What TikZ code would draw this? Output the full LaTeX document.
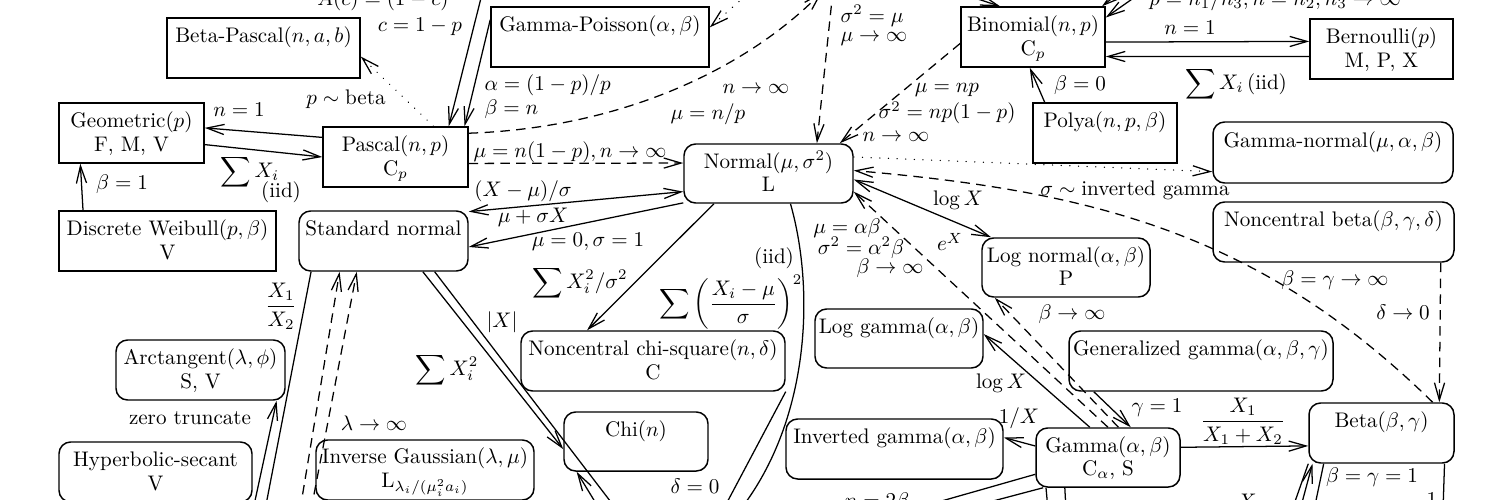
\documentclass[tikz,border=0pt]{standalone}
\usepackage{amsmath}
\usetikzlibrary{arrows.meta}
\newcommand\fstrut{\rule{0pt}{9.4pt}}
\begin{document}
\begin{tikzpicture}[x=0.01667cm,y=-0.01667cm,
  >={Straight Barb[length=8.2pt,width=4.8pt]},
  ln/.style={line width=0.6pt},
  dsh/.style={ln, dash pattern=on 4.5pt off 3pt},
  dtt/.style={ln, dash pattern=on 0.1pt off 4pt, line cap=round},
  wh/.style 2 args={minimum width=#1*0.01667cm, minimum height=#2*0.01667cm},
  box/.style={draw, line width=0.7pt, inner sep=0pt, align=center, font=\fontsize{10}{11.2}\selectfont},
  rbox/.style={box, rounded corners=5.5pt},
  lbl/.style={inner sep=1pt}]
\useasboundingbox (0,0) rectangle (1500,499);
\clip (0,0) rectangle (1500,499);

% ---------- nodes ----------
\node[box, wh={193}{60}] (betapascal) at (263.5,48) {\fstrut Beta-Pascal$(n,a,b)$\\\strut};
\node[box, wh={218}{60}] (gammapoisson) at (600,37) {\fstrut Gamma-Poisson$(\alpha,\beta)$\\\strut};
\node[box, wh={144}{60}] (binomial) at (1033,37) {\fstrut Binomial$(n,p)$\\\strut C$_p$};
\node[box, wh={143}{60}] (bernoulli) at (1381.5,49) {\fstrut Bernoulli$(p)$\\\strut M, P, X};
\node[box, wh={145}{60}] (geometric) at (131.5,133) {\fstrut Geometric$(p)$\\\strut F, M, V};
\node[box, wh={145}{60}] (pascal) at (395.5,157) {\fstrut Pascal$(n,p)$\\\strut C$_p$};
\node[box, wh={144}{60}] (polya) at (1105,133) {\fstrut Polya$(n,p,\beta)$\\\strut};
\node[rbox, wh={169}{59}] (normal) at (768.5,173.5) {\fstrut Normal$(\mu,\sigma^2)$\\\strut L};
\node[rbox, wh={240}{61}] (gammanormal) at (1333,152.5) {\fstrut Gamma-normal$(\mu,\alpha,\beta)$\\\strut};
\node[box, wh={217}{60}] (dweibull) at (167.5,241) {\fstrut Discrete Weibull$(p,\beta)$\\\strut V};
\node[rbox, wh={169}{60}] (stdnormal) at (383.5,241) {\fstrut Standard normal\\\strut};
\node[rbox, wh={241}{60}] (ncbeta) at (1333.5,232) {\fstrut Noncentral beta$(\beta,\gamma,\delta)$\\\strut};
\node[rbox, wh={168}{59}] (lognormal) at (1066,267.5) {\fstrut Log normal$(\alpha,\beta)$\\\strut P};
\node[rbox, wh={168}{59}] (loggamma) at (899,338.5) {\fstrut Log gamma$(\alpha,\beta)$\\\strut};
\node[rbox, wh={264}{60}] (gengamma) at (1201,361) {\fstrut Generalized gamma$(\alpha,\beta,\gamma)$\\\strut};
\node[rbox, wh={264}{60}] (ncchisq) at (653,361) {\fstrut Noncentral chi-square$(n,\delta)$\\\strut C};
\node[rbox, wh={169}{60}] (arctan) at (200.5,370) {\fstrut Arctangent$(\lambda,\phi)$\\\strut S, V};
\node[rbox, wh={144}{59}] (chi) at (636,441.5) {\fstrut Chi$(n)$\\\strut};
\node[rbox, wh={217}{60}] (invgamma) at (894.5,449) {\fstrut Inverted gamma$(\alpha,\beta)$\\\strut};
\node[rbox, wh={144}{59}] (gamma) at (1108,457.5) {\fstrut Gamma$(\alpha,\beta)$\\\strut C$_\alpha$, S};
\node[rbox, wh={145}{60}] (beta) at (1381.5,433) {\fstrut Beta$(\beta,\gamma)$\\\strut};
\node[rbox, wh={193}{60}] (hypsec) at (155.5,472) {\fstrut Hyperbolic-secant\\\strut V};
\node[rbox, wh={218}{60}] (invgauss) at (425,470) {\fstrut Inverse Gaussian$(\lambda,\mu)$\\\strut L$_{\lambda_i/(\mu_i^2 a_i)}$};

% ---------- free ends ----------
\coordinate (tP) at (483,-10);
\coordinate (tGP) at (752,-10);
\coordinate (tPc) at (822,-8);
\coordinate (tN) at (833,-10);
\coordinate (tB1) at (950,-10);
\coordinate (tB2) at (1125,-12);
\coordinate (tB3) at (1145,-10);
\coordinate (bNc) at (740,510);
\coordinate (bD) at (723,510);
\coordinate (bS) at (617,510);
\coordinate (bC) at (600,510);
\coordinate (bX) at (265,510);
\coordinate (bZ) at (253,510);
\coordinate (bDa) at (300,510);
\coordinate (bDb) at (311,510);
\coordinate (bG1) at (910,510);
\coordinate (bG2) at (959,510);
\coordinate (bG3) at (1048,510);
\coordinate (bG4) at (1066,510);
\coordinate (bB1) at (1292,510);
\coordinate (bB2) at (1300,510);
\coordinate (bB3) at (1314,510);
\coordinate (bB4) at (1443,510);

% ---------- connectors ----------
\draw[ln,->] (pascal.165.3) -- (geometric.4.7);
\draw[ln,->] (geometric.-9.4) -- (pascal.180);
\draw[ln,->] (dweibull.160.45) -- (geometric.211.7);
\draw[dtt,->] (pascal.39.4) -- (betapascal.-5.2);
\draw[ln,->] (tP) -- (pascal.30.2);
\draw[ln,->] (gammapoisson.171.1) -- (pascal.24.3);
\draw[dtt,->] (tGP) -- (gammapoisson.5.7);
\draw[dsh,->] (pascal.18.3) .. controls (620,128) and (745,70) .. (tPc);
\draw[dsh,->] (pascal.-5.5) -- (normal.173.6);
\draw[dsh,->] (tN) -- (normal.32.4);
\draw[dsh,->] (binomial.185.6) -- (normal.23.6);
\draw[ln,<->] (normal.192.6) -- (stdnormal.19);
\draw[ln,->] (normal.199.5) -- (stdnormal.-4);
\draw[ln,->] (normal.209.7) -- (ncchisq.155.2);
\draw[ln] (normal.-54.8) .. controls (815,290) and (810,420) .. (bNc);
\draw[ln] (ncchisq.-13.8) -- (bD);
\draw[ln,->] (stdnormal.-38.7) -- (chi.186.7);
\draw[ln] (stdnormal.-31.2) -- (bS);
\draw[ln,->] (bC) -- (chi.207);
\draw[ln] (stdnormal.203) -- (bX);
\draw[ln,->] (bZ) -- (arctan.-22.5);
\draw[dsh,->] (bDa) -- (stdnormal.215.9);
\draw[dsh,->] (bDb) -- (stdnormal.229.6);
\draw[ln,<->] (normal.-4.4) -- (lognormal.158.3);
\draw[dtt,->] (normal.11.7) -- (gammanormal.189.2);
\draw[dsh,->] (beta.31.7) .. controls (1260,233) and (1092,191) .. (normal.2.4);
\draw[dsh,->] (ncbeta.-16) -- (beta.28);
\draw[dsh,->] (gamma.90) -- (normal.-12.4);
\draw[dsh,->] (gamma.71.3) -- (lognormal.203.5);
\draw[ln,->] (gamma.121.4) -- (loggamma.3.7);
\draw[ln,->] (gengamma.196.1) -- (gamma.53.3);
\draw[ln,->] (gamma.171.7) -- (invgamma.6.3);
\draw[ln,->] (gamma.8.3) -- (beta.190.9);
\draw[ln] (gamma.193.7) -- (bG1);
\draw[ln] (gamma.205.4) -- (bG2);
\draw[ln] (gamma.206.2) -- (bG3);
\draw[ln] (gamma.215.1) -- (bG4);
\draw[ln] (beta.south west) -- (bB1);
\draw[ln,->] (bB2) -- (beta.204);
\draw[ln] (beta.208) -- (bB3);
\draw[ln] (beta.-26) -- (bB4);
\draw[ln,->] (binomial.-4) -- (bernoulli.174.4);
\draw[ln,->] (bernoulli.186.4) -- (binomial.-15.5);
\draw[ln,->] (polya.153.4) -- (binomial.264.3);
\draw[ln,->] (tB1) -- (binomial.137.7);
\draw[ln,->] (tB2) -- (binomial.24.1);
\draw[ln,->] (tB3) -- (binomial.15.5);

% ---------- labels ----------
\node[lbl] (la1) at (383,0) {$A(c)=(1-c)$};
\node[lbl] (la2) at (420,27) {$c=1-p$};
\node[lbl] (la3) at (346,99) {$p\sim\text{beta}$};
\node[lbl] (la4) at (239,110) {$n=1$};
\node[lbl] (la5) at (250,172) {$\displaystyle\sum X_i$};
\node[lbl] (la6) at (281,192) {(iid)};
\node[lbl] (la7) at (122,184) {$\beta=1$};
\node[lbl,anchor=west] (la8) at (482,85) {$\alpha=(1-p)/p$};
\node[lbl,anchor=west] (la9) at (482,109) {$\beta=n$};
\node[lbl] (la10) at (756,89) {$n\to\infty$};
\node[lbl] (la11) at (708,114) {$\mu=n/p$};
\node[lbl] (la12) at (570,152) {$\mu=n(1-p),n\to\infty$};
\node[lbl,anchor=west] (la13) at (838,16) {$\sigma^2=\mu$};
\node[lbl,anchor=west] (la14) at (838,39) {$\mu\to\infty$};
\node[lbl] (la15) at (947,90) {$\mu=np$};
\node[lbl] (la16) at (947,113) {$\sigma^2=np(1-p)$};
\node[lbl] (la17) at (896,137) {$n\to\infty$};
\node[lbl] (la18) at (523,191) {$(X-\mu)/\sigma$};
\node[lbl] (la19) at (533,217) {$\mu+\sigma X$};
\node[lbl] (la20) at (588,242) {$\mu=0,\sigma=1$};
\node[lbl] (la21) at (580,283) {$\displaystyle\sum X_i^2/\sigma^2$};
\node[lbl] (la22) at (774,258) {(iid)};
\node[lbl] (la23) at (731,302) {$\displaystyle\sum\left(\frac{X_i-\mu}{\sigma}\right)^2$};
\node[lbl] (la24) at (502,322) {$|X|$};
\node[lbl] (la25) at (447,370) {$\displaystyle\sum X_i^2$};
\node[lbl] (la26) at (281,306) {$\dfrac{X_1}{X_2}$};
\node[lbl] (la27) at (190,418) {zero truncate};
\node[lbl] (la28) at (374,423) {$\lambda\to\infty$};
\node[lbl] (la29) at (695,486) {$\delta=0$};
\node[lbl] (la30) at (847,228) {$\mu=\alpha\beta$};
\node[lbl] (la31) at (861,248) {$\sigma^2=\alpha^2\beta$};
\node[lbl] (la32) at (890,268) {$\beta\to\infty$};
\node[lbl] (la33) at (958,200) {$\log X$};
\node[lbl] (la34) at (950,242) {$e^X$};
\node[lbl] (la35) at (1135,190) {$\sigma\sim\text{inverted gamma}$};
\node[lbl] (la36) at (1335,280) {$\beta=\gamma\to\infty$};
\node[lbl] (la37) at (1403,312) {$\delta\to0$};
\node[lbl] (la38) at (1072,314) {$\beta\to\infty$};
\node[lbl] (la39) at (1001,383) {$\log X$};
\node[lbl] (la40) at (1157,408) {$\gamma=1$};
\node[lbl] (la41) at (1019,418) {$1/X$};
\node[lbl] (la42) at (1243,421) {$\dfrac{X_1}{X_1+X_2}$};
\node[lbl] (la43) at (877,502) {$n=2\beta$};
\node[lbl] (la44) at (1372,477) {$\beta=\gamma=1$};
\node[lbl] (la45) at (1247,501) {$X$};
\node[lbl] (la46) at (1432,500) {$1$};
\node[lbl] (la47) at (1080,85) {$\beta=0$};
\node[lbl] (la48) at (1190,28) {$n=1$};
\node[lbl] (la49) at (1236,84) {$\displaystyle\sum X_i\,$(iid)};
\node[lbl] (la50) at (1275,0) {$p=n_1/n_3, n=n_2, n_3\to\infty$};
\end{tikzpicture}
\end{document}
